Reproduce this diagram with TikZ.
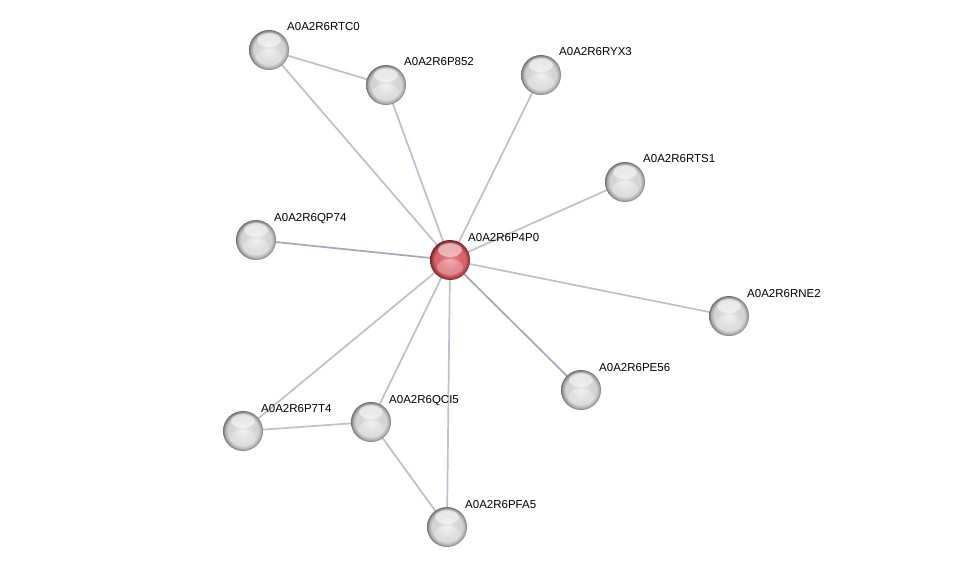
\documentclass[tikz,border=0pt]{standalone}
\usepackage{fontspec}
\setmainfont{Liberation Sans}
\definecolor{edgec}{RGB}{190,190,210}
\definecolor{edged}{RGB}{165,165,188}
\definecolor{gA}{RGB}{236,236,236}
\definecolor{gB}{RGB}{212,212,212}
\definecolor{gC}{RGB}{165,165,165}
\definecolor{gD}{RGB}{110,110,110}
\definecolor{rA}{RGB}{238,140,145}
\definecolor{rB}{RGB}{214,100,106}
\definecolor{rC}{RGB}{165,58,63}
\definecolor{rD}{RGB}{110,32,36}
\pgfdeclareradialshading{gball}{\pgfpoint{0bp}{0bp}}{color(0bp)=(gA); color(14bp)=(gB); color(19bp)=(gB); color(23bp)=(gC); color(25bp)=(gD); color(30bp)=(gD)}
\pgfdeclareradialshading{rball}{\pgfpoint{0bp}{0bp}}{color(0bp)=(rA); color(14bp)=(rB); color(19bp)=(rB); color(23bp)=(rC); color(25bp)=(rD); color(30bp)=(rD)}
\begin{document}
\begin{tikzpicture}[x=1pt,y=-1pt,
  prot/.style={circle,minimum size=40pt,inner sep=0pt,shading=gball,
    path picture={
      \fill[white,opacity=0.5] ([yshift=10pt]path picture bounding box.center) ellipse (12pt and 7pt);
      \fill[white,opacity=0.25] ([yshift=-7pt]path picture bounding box.center) ellipse (13pt and 8pt);
    }},
  hub/.style={prot,shading=rball},
  lbl/.style={font=\fontsize{11.5}{12}\selectfont,anchor=base west,inner sep=0pt},
  edge/.style={line width=1.7pt,color=edgec},
  edgeD/.style={line width=1.7pt,color=edged}]
\useasboundingbox[fill=white] (0,0) rectangle (976,572);
\coordinate (cP4P0) at (450,260);
\coordinate (cRTC0) at (269,50);
\coordinate (cP852) at (386,85);
\coordinate (cRYX3) at (541,75);
\coordinate (cRTS1) at (625,182);
\coordinate (cQP74) at (256,240);
\coordinate (cRNE2) at (729,316);
\coordinate (cPE56) at (581,390);
\coordinate (cP7T4) at (243,431);
\coordinate (cQCI5) at (371,422);
\coordinate (cPFA5) at (447,527);
% edges
\draw[edge] (cRTC0) -- (cP852);
\draw[edge] (cP7T4) -- (cQCI5);
\draw[edge] (cQCI5) -- (cPFA5);
\draw[edge] (cP4P0) -- (cRTC0);
\draw[edge] (cP4P0) -- (cP852);
\draw[edge] (cP4P0) -- (cRYX3);
\draw[edge] (cP4P0) -- (cRTS1);
\draw[edgeD] (cP4P0) -- (cQP74);
\draw[edge] (cP4P0) -- (cRNE2);
\draw[edgeD] (cP4P0) -- (cPE56);
\draw[edge] (cP4P0) -- (cP7T4);
\draw[edge] (cP4P0) -- (cQCI5);
\draw[edge] (cP4P0) -- (cPFA5);
% nodes
\node[prot] (RTC0) at (cRTC0) {};
\node[prot] (P852) at (cP852) {};
\node[prot] (RYX3) at (cRYX3) {};
\node[prot] (RTS1) at (cRTS1) {};
\node[prot] (QP74) at (cQP74) {};
\node[prot] (RNE2) at (cRNE2) {};
\node[prot] (PE56) at (cPE56) {};
\node[prot] (P7T4) at (cP7T4) {};
\node[prot] (QCI5) at (cQCI5) {};
\node[prot] (PFA5) at (cPFA5) {};
\node[hub] (P4P0) at (cP4P0) {};
% labels
\node[lbl] (lP4P0) at ([shift={(18,-19)}]cP4P0) {A0A2R6P4P0};
\node[lbl] (lRTC0) at ([shift={(18,-19)}]cRTC0) {A0A2R6RTC0};
\node[lbl] (lP852) at ([shift={(18,-19)}]cP852) {A0A2R6P852};
\node[lbl] (lRYX3) at ([shift={(18,-19)}]cRYX3) {A0A2R6RYX3};
\node[lbl] (lRTS1) at ([shift={(18,-19)}]cRTS1) {A0A2R6RTS1};
\node[lbl] (lQP74) at ([shift={(18,-19)}]cQP74) {A0A2R6QP74};
\node[lbl] (lRNE2) at ([shift={(18,-19)}]cRNE2) {A0A2R6RNE2};
\node[lbl] (lPE56) at ([shift={(18,-19)}]cPE56) {A0A2R6PE56};
\node[lbl] (lP7T4) at ([shift={(18,-19)}]cP7T4) {A0A2R6P7T4};
\node[lbl] (lQCI5) at ([shift={(18,-19)}]cQCI5) {A0A2R6QCI5};
\node[lbl] (lPFA5) at ([shift={(18,-19)}]cPFA5) {A0A2R6PFA5};
\end{tikzpicture}
\end{document}
